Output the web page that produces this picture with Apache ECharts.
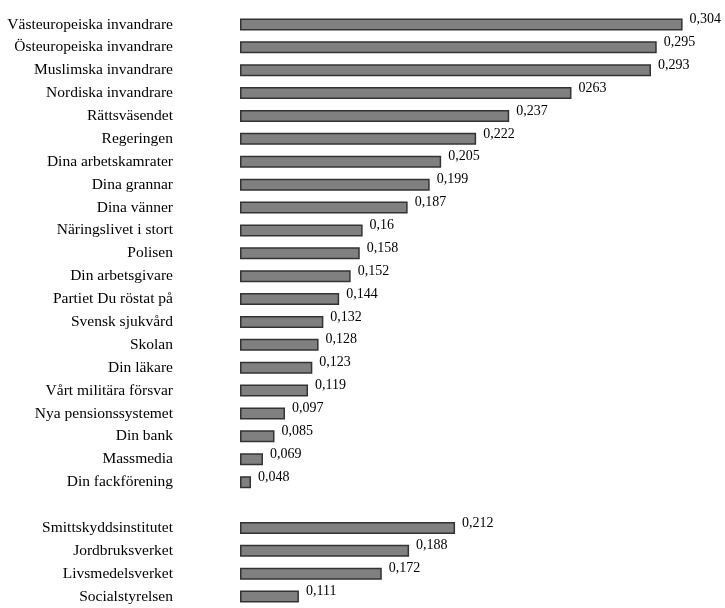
<!DOCTYPE html>
<html>
<head>
<meta charset="utf-8">
<script src="https://cdn.jsdelivr.net/npm/echarts@6/dist/echarts.min.js"></script>
<style>
  html, body { margin: 0; padding: 0; background: #fff; }
  #chart { width: 725px; height: 608px; }
</style>
</head>
<body>
<div id="chart"></div>
<script>
// categories top to bottom, empty entry is the gap between the two groups
const categories = [
  "Västeuropeiska invandrare", "Östeuropeiska invandrare", "Muslimska invandrare",
  "Nordiska invandrare", "Rättsväsendet", "Regeringen", "Dina arbetskamrater",
  "Dina grannar", "Dina vänner", "Näringslivet i stort", "Polisen",
  "Din arbetsgivare", "Partiet Du röstat på", "Svensk sjukvård", "Skolan",
  "Din läkare", "Vårt militära försvar", "Nya pensionssystemet", "Din bank",
  "Massmedia", "Din fackförening", "",
  "Smittskyddsinstitutet", "Jordbruksverket", "Livsmedelsverket", "Socialstyrelsen"
];

// printed values next to the bars (as written in the original)
const valueLabels = [
  "0,304", "0,295", "0,293", "0263", "0,237", "0,222", "0,205", "0,199", "0,187",
  "0,16", "0,158", "0,152", "0,144", "0,132", "0,128", "0,123", "0,119",
  "0,097", "0,085", "0,069", "0,048", "",
  "0,212", "0,188", "0,172", "0,111"
];

// bar lengths as drawn in the picture (they follow the square of the printed value)
const barValues = [
  0.0924, 0.0870, 0.0858, 0.0692, 0.0562, 0.0493, 0.0420, 0.0396, 0.0350,
  0.0256, 0.0250, 0.0231, 0.0207, 0.0174, 0.0164, 0.0151, 0.0142,
  0.0094, 0.0072, 0.0048, 0.0023, null,
  0.0449, 0.0353, 0.0296, 0.0123
];

const chart = echarts.init(document.getElementById("chart"));

chart.setOption({
  backgroundColor: "#fff",
  animation: false,
  grid: { left: 240, top: 13, width: 479, height: 600.6 },
  xAxis: {
    type: "value",
    min: 0,
    max: 0.1,
    show: false
  },
  yAxis: {
    type: "category",
    data: categories,
    inverse: true,
    axisLine: { show: false },
    axisTick: { show: false },
    splitLine: { show: false },
    axisLabel: {
      margin: 67,
      color: "#000",
      fontFamily: "Liberation Serif",
      fontSize: 15.5
    }
  },
  series: [{
    type: "bar",
    data: barValues,
    barWidth: 12,
    itemStyle: {
      color: "#808080",
      borderColor: "#333",
      borderWidth: 1.5
    },
    label: {
      show: true,
      position: "right",
      distance: 7,
      offset: [0, -5],
      color: "#000",
      fontFamily: "Liberation Serif",
      fontSize: 14,
      formatter: p => valueLabels[p.dataIndex]
    }
  }]
});
</script>
</body>
</html>
